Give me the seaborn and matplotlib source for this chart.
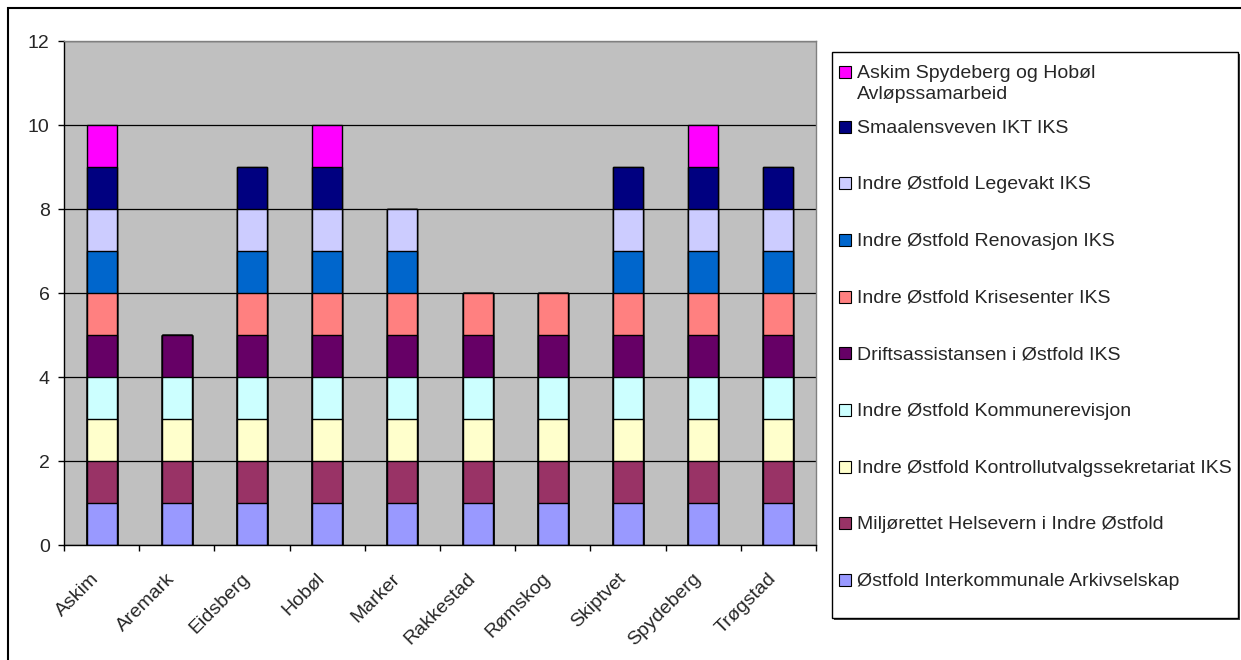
import numpy as np
import pandas as pd
import matplotlib.pyplot as plt
import matplotlib.transforms as mtransforms
from matplotlib.patches import Rectangle
import seaborn as sns

sns.set_style("white")
plt.rcParams['font.family'] = ['Liberation Sans', 'DejaVu Sans']

kommuner = ["Askim", "Aremark", "Eidsberg", "Hobøl", "Marker",
            "Rakkestad", "Rømskog", "Skiptvet", "Spydeberg", "Trøgstad"]

# bottom -> top
selskap = [
    "Østfold Interkommunale Arkivselskap",
    "Miljørettet Helsevern i Indre Østfold",
    "Indre Østfold Kontrollutvalgssekretariat IKS",
    "Indre Østfold Kommunerevisjon",
    "Driftsassistansen i Østfold IKS",
    "Indre Østfold Krisesenter IKS",
    "Indre Østfold Renovasjon IKS",
    "Indre Østfold Legevakt IKS",
    "Smaalensveven IKT IKS",
    "Askim Spydeberg og Hobøl\nAvløpssamarbeid",
]

arkiv       = [1, 1, 1, 1, 1, 1, 1, 1, 1, 1]
miljo       = [1, 1, 1, 1, 1, 1, 1, 1, 1, 1]
kontroll    = [1, 1, 1, 1, 1, 1, 1, 1, 1, 1]
revisjon    = [1, 1, 1, 1, 1, 1, 1, 1, 1, 1]
drift       = [1, 1, 1, 1, 1, 1, 1, 1, 1, 1]
krisesenter = [1, 0, 1, 1, 1, 1, 1, 1, 1, 1]
renovasjon  = [1, 0, 1, 1, 1, 0, 0, 1, 1, 1]
legevakt    = [1, 0, 1, 1, 1, 0, 0, 1, 1, 1]
ikt         = [1, 0, 1, 1, 0, 0, 0, 1, 1, 1]
avlop       = [1, 0, 0, 1, 0, 0, 0, 0, 1, 0]

farger = ["#9999FF", "#993366", "#FFFFCC", "#CCFFFF", "#660066",
          "#FF8080", "#0066CC", "#CCCCFF", "#000080", "#FF00FF"]

df = pd.DataFrame([arkiv, miljo, kontroll, revisjon, drift, krisesenter,
                   renovasjon, legevakt, ikt, avlop],
                  index=selskap, columns=kommuner).T
cum = df.cumsum(axis=1)

W, H = 1241, 660
fig = plt.figure(figsize=(W / 100, H / 100), dpi=100)
ax = fig.add_axes([64 / W, 1 - 545 / H, 752 / W, 504 / H])
ax.set_facecolor("#C0C0C0")

# stacked bars: draw cumulative heights from top layer down
for i in range(len(selskap) - 1, -1, -1):
    sns.barplot(x=kommuner, y=cum.iloc[:, i].values, color=farger[i],
                saturation=1, width=0.4, edgecolor="black", linewidth=1.0,
                errorbar=None, ax=ax, zorder=2)

ax.set_ylim(0, 12)
ax.set_xlim(-0.5, len(kommuner) - 0.5)
ax.set_yticks(np.arange(0, 13, 2))
ax.yaxis.grid(True, color="black", lw=0.9, zorder=0)
ax.set_axisbelow(True)

ax.set_xticks(range(len(kommuner)))
ax.set_xticklabels(kommuner, rotation=45, ha="right", fontsize=14)
ax.set_xticks(np.arange(-0.5, len(kommuner), 1), minor=True)
ax.tick_params(axis="x", which="major", length=0, pad=18)
ax.tick_params(axis="x", which="minor", length=4.3, width=1, color="black",
               direction="out", bottom=True)
ax.tick_params(axis="y", length=4.3, width=1, color="black", direction="out",
               left=True, labelsize=14, pad=6)
shift = mtransforms.ScaledTranslation(-11 / 100, 0, fig.dpi_scale_trans)
for lab in ax.get_xticklabels():
    lab.set_rotation_mode("anchor")
    lab.set_va("top")
    lab.set_transform(lab.get_transform() + shift)
ax.set_xlabel("")
ax.set_ylabel("")

for s in ["left", "bottom"]:
    ax.spines[s].set_color("black")
    ax.spines[s].set_linewidth(1.0)
for s in ["top", "right"]:
    ax.spines[s].set_color("#808080")
    ax.spines[s].set_linewidth(1.0)

# outer chart frame
fig.patches.append(Rectangle((8 / W, -0.05), 1.1, 1 - 8 / H + 0.05,
                             transform=fig.transFigure, fill=False,
                             edgecolor="black", lw=1.5, zorder=0))

# legend box with shadow
lx0, lx1, ly0, ly1 = 832, 1238, 52, 618
fig.patches.append(Rectangle(((lx0 + 2) / W, 1 - (ly1 + 2) / H),
                             (lx1 - lx0) / W, (ly1 - ly0) / H,
                             transform=fig.transFigure, facecolor="#404040",
                             edgecolor="none", zorder=1))
fig.patches.append(Rectangle((lx0 / W, 1 - ly1 / H),
                             (lx1 - lx0) / W, (ly1 - ly0) / H,
                             transform=fig.transFigure, facecolor="white",
                             edgecolor="black", lw=1.0, zorder=2))

rows_y = [72] + [126.7 + 56.66 * k for k in range(9)]
for j, i in enumerate(range(len(selskap) - 1, -1, -1)):
    yc = rows_y[j]
    fig.patches.append(Rectangle((839 / W, 1 - (yc + 6) / H), 12 / W, 12 / H,
                                 transform=fig.transFigure,
                                 facecolor=farger[i], edgecolor="black",
                                 lw=0.8, zorder=3))
    fig.text(857 / W, 1 - (yc - 7) / H, selskap[i], fontsize=14,
             ha="left", va="top", linespacing=1.33, zorder=4)

fig.savefig("out.png", dpi=100)
